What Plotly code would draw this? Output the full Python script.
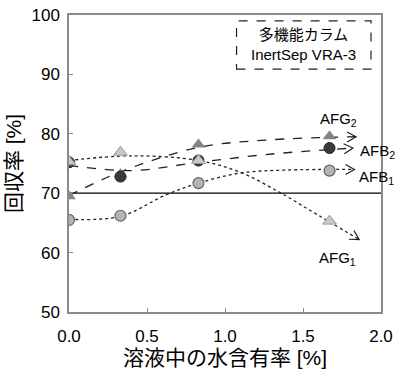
import math
import plotly.graph_objects as go

# ---- data ----
water = [0.0, 0.33, 0.83, 1.67]
afb1 = [65.5, 66.2, 71.7, 73.8]
afb2 = [75.2, 72.8, 75.5, 77.6]
afg1 = [75.3, 76.9, 75.5, 65.3]
afg2 = [69.5, 73.2, 78.2, 79.6]

# trend curves
afb1_tx = [0.0, 0.33, 0.62, 0.83, 1.1, 1.4, 1.83]
afb1_ty = [65.6, 66.1, 69.7, 71.7, 73.4, 73.9, 74.0]
afb2_tx = [0.0, 0.4, 0.83, 1.3, 1.82]
afb2_ty = [74.7, 73.8, 75.2, 76.6, 77.6]
afg1_tx = [0.0, 0.4, 0.83, 1.1, 1.36, 1.54, 1.86]
afg1_ty = [75.5, 76.3, 75.5, 73.5, 70.0, 67.2, 62.2]
afg2_tx = [0.0, 0.33, 0.83, 1.3, 1.84]
afg2_ty = [69.6, 73.6, 77.7, 79.0, 79.5]

threshold = 70
x_title = "溶液中の水含有率 [%]"
y_title = "回収率 [%]"
box_text = "多機能カラム<br>InertSep VRA-3"

FONT = "Liberation Sans, Arial, Noto Sans CJK JP, sans-serif"

fig = go.Figure()

def trend(tx, ty, dash):
    fig.add_trace(go.Scatter(x=tx, y=ty, mode="lines", line_shape="spline",
                             line=dict(color="#222", width=1.3, dash=dash),
                             hoverinfo="skip", showlegend=False))

trend(afb1_tx, afb1_ty, "dot")
trend(afg1_tx, afg1_ty, "dot")
trend(afb2_tx, afb2_ty, "dash")
trend(afg2_tx, afg2_ty, "dash")

fig.add_trace(go.Scatter(x=water, y=afb1, mode="markers", showlegend=False,
                         marker=dict(symbol="circle", size=11, color="#b4b4b4",
                                     line=dict(color="#666", width=1.2))))
fig.add_trace(go.Scatter(x=water, y=afg2, mode="markers", showlegend=False,
                         marker=dict(symbol="triangle-up", size=12, color="#858585",
                                     line=dict(width=0))))
fig.add_trace(go.Scatter(x=water, y=afb2, mode="markers", showlegend=False,
                         marker=dict(symbol="circle", size=11, color="#3a3a3a",
                                     line=dict(color="#222", width=1))))
fig.add_trace(go.Scatter(x=water, y=afg1, mode="markers", showlegend=False,
                         marker=dict(symbol="triangle-up", size=12, color="#c8c8c8",
                                     line=dict(color="#999", width=1))))

# plot geometry for arrow orientation
W, H = 396, 369
ml, mr, mt, mb = 69, 15, 15, 57
pw = W - ml - mr
ph = H - mt - mb
sx = pw / 2.0
sy = ph / 50.0

shapes = []
for tx, ty in [(afb1_tx, afb1_ty), (afg1_tx, afg1_ty), (afb2_tx, afb2_ty), (afg2_tx, afg2_ty)]:
    dx = (tx[-1] - tx[-2]) * sx
    dy = (ty[-1] - ty[-2]) * sy
    a = math.atan2(dy, dx)
    L, wdt = 9, 5
    pts = []
    for px, py in [(-L, wdt), (0, 0), (-L, -wdt)]:
        rx = px * math.cos(a) - py * math.sin(a)
        ry = px * math.sin(a) + py * math.cos(a)
        pts.append((rx, ry))
    path = "M{:.2f},{:.2f} L{:.2f},{:.2f} L{:.2f},{:.2f}".format(
        pts[0][0], pts[0][1], pts[1][0], pts[1][1], pts[2][0], pts[2][1])
    shapes.append(dict(type="path", xref="x", yref="y", xsizemode="pixel",
                       ysizemode="pixel", xanchor=tx[-1], yanchor=ty[-1],
                       path=path, line=dict(color="#222", width=1.2)))

shapes.append(dict(type="line", xref="paper", yref="y", x0=0, x1=1,
                   y0=threshold, y1=threshold, line=dict(color="black", width=1.3),
                   layer="below"))
shapes.append(dict(type="rect", xref="paper", yref="paper",
                   x0=0.537, x1=0.968, y0=0.818, y1=0.98,
                   line=dict(color="#222", width=1.2, dash="dash"),
                   fillcolor="white", layer="above"))

annotations = [
    dict(x=0.753, y=0.899, xref="paper", yref="paper", text=box_text,
         xanchor="center", yanchor="middle",
         showarrow=False, font=dict(size=15, color="black", family=FONT), align="center"),
    dict(x=1.728, y=82.4, xref="x", yref="y", text="AFG<sub>2</sub>", showarrow=False,
         xanchor="center", yanchor="middle",
         font=dict(size=15, color="black", family=FONT)),
    dict(x=1.98, y=77.1, xref="x", yref="y", text="AFB<sub>2</sub>", showarrow=False,
         xanchor="center", yanchor="middle",
         font=dict(size=15, color="black", family=FONT)),
    dict(x=1.97, y=72.6, xref="x", yref="y", text="AFB<sub>1</sub>", showarrow=False,
         xanchor="center", yanchor="middle",
         font=dict(size=15, color="black", family=FONT)),
    dict(x=1.72, y=59.0, xref="x", yref="y", text="AFG<sub>1</sub>", showarrow=False,
         xanchor="center", yanchor="middle",
         font=dict(size=15, color="black", family=FONT)),
]

axis_common = dict(showline=True, linecolor="#8a8a8a", linewidth=1.5, mirror=True,
                   ticks="inside", ticklen=4, tickcolor="#8a8a8a", tickwidth=1.2,
                   showgrid=False, zeroline=False,
                   tickfont=dict(size=17, color="black", family=FONT))

fig.update_layout(
    width=W, height=H,
    margin=dict(l=ml, r=mr, t=mt, b=mb, autoexpand=False),
    paper_bgcolor="white", plot_bgcolor="white",
    xaxis=dict(range=[0, 2], dtick=0.5, tickformat=".1f", ticklabelstandoff=8,
               title=dict(text=x_title, font=dict(size=21, color="black", family=FONT), standoff=4),
               **axis_common),
    yaxis=dict(range=[50, 100], dtick=10, ticklabelstandoff=4,
               title=dict(text=y_title, font=dict(size=21, color="black", family=FONT), standoff=4),
               **axis_common),
    shapes=shapes, annotations=annotations,
)

fig.write_html("out.html", config={"displayModeBar": False},
               post_script="document.body.style.margin='0px';document.body.style.overflow='hidden';")
